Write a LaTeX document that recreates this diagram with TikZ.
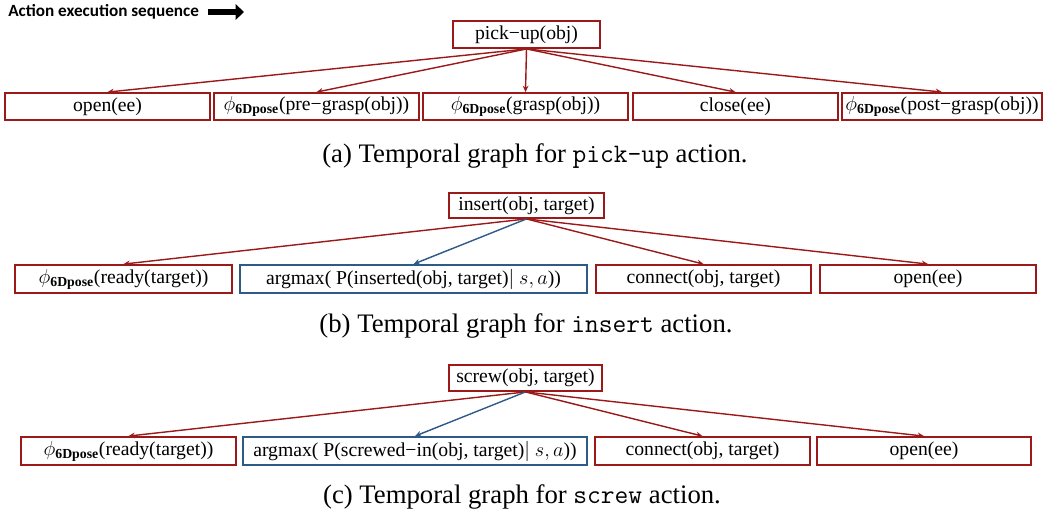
\documentclass[tikz,border=0pt]{standalone}
\usepackage{fontspec}
\setmainfont{Liberation Serif}
\newfontfamily\titlefont{Carlito}
\usetikzlibrary{arrows.meta}

\definecolor{boxred}{RGB}{155,25,25}
\definecolor{boxblue}{RGB}{46,90,136}

\tikzset{
  act/.style={draw=boxred, line width=1.3pt, inner sep=0pt, minimum height=0.675cm,
              font=\fontsize{14}{16}\selectfont},
  learnt/.style={act, draw=boxblue},
  edge/.style={draw=boxred, line width=1pt, -{Stealth[length=4.5pt,width=4pt]}},
  edgeb/.style={edge, draw=boxblue},
  captext/.style={font=\fontsize{19}{21}\selectfont}
}
\newcommand{\phipose}{$\phi_{\mathbf{6Dpose}}$}
\newcommand{\actname}[1]{\texttt{#1}}

\begin{document}
\begin{tikzpicture}[x=0.025cm, y=-0.025cm]
  \useasboundingbox (0,0) rectangle (1045,516);

  \node [right, inner sep=0pt, font=\titlefont\bfseries\fontsize{12.2}{14}\selectfont] (seq) at (8,12) {Action execution sequence};
  \coordinate (seqend) at (244,12);
  \draw [line width=4pt, -{Triangle[length=6pt,width=11pt]}] ([xshift=6pt]seq.east) -- (seqend);

  % (a) pick-up
  \node [act, minimum width=3.675cm] (pick) at (526.5, 34.5) {pick−up(obj)};
  \node [act, minimum width=5.125cm] (pOpen) at (107.5, 106.5) {open(ee)};
  \node [act, minimum width=5.125cm] (pPre) at (316.5, 106.5) {\phipose(pre−grasp(obj))};
  \node [act, minimum width=5.125cm] (pGrasp) at (525.5, 106.5) {\phipose(grasp(obj))};
  \node [act, minimum width=5.125cm] (pClose) at (735.5, 106.5) {close(ee)};
  \node [act, minimum width=5cm] (pPost) at (942, 106.5) {\phipose(post−grasp(obj))};

  \draw [edge] (pick.south) -- (pOpen.north);
  \draw [edge] (pick.south) -- (pPre.north);
  \draw [edge] (pick.south) -- (pGrasp.north);
  \draw [edge] (pick.south) -- (pClose.north);
  \draw [edge] (pick.south) -- (pPost.north);

  \node [captext] (capA) at (535, 156) {(a) Temporal graph for \actname{pick-up} action.};

  % (b) insert
  \node [act, minimum width=3.875cm, minimum height=0.625cm] (insert) at (526.5, 205.5) {insert(obj, target)};
  \node [act, minimum width=5.425cm, minimum height=0.7cm] (iReady) at (123.5, 279) {\phipose(ready(target))};
  \node [learnt, minimum width=8.675cm, minimum height=0.7cm] (iArg) at (413.5, 279) {argmax( P(inserted(obj, target)$|$ $s,a$))};
  \node [act, minimum width=5.375cm, minimum height=0.7cm] (iConn) at (703.5, 279) {connect(obj, target)};
  \node [act, minimum width=5.4cm, minimum height=0.7cm] (iOpen) at (928, 279) {open(ee)};

  \draw [edge] (insert.south) -- (iReady.north);
  \draw [edgeb] (insert.south) -- (iArg.north);
  \draw [edge] (insert.south) -- (iConn.north);
  \draw [edge] (insert.south) -- (iOpen.north);

  \node [captext] (capB) at (526, 326) {(b) Temporal graph for \actname{insert} action.};

  % (c) screw
  \node [act, minimum width=3.825cm, minimum height=0.65cm] (screw) at (525.5, 378) {screw(obj, target)};
  \node [act, minimum width=5.375cm, minimum height=0.7cm] (sReady) at (128.5, 451) {\phipose(ready(target))};
  \node [learnt, minimum width=8.6cm, minimum height=0.7cm] (sArg) at (415, 451) {argmax( P(screwed−in(obj, target)$|$ $s,a$))};
  \node [act, minimum width=5.375cm, minimum height=0.7cm] (sConn) at (702.5, 451) {connect(obj, target)};
  \node [act, minimum width=5.35cm, minimum height=0.7cm] (sOpen) at (924, 451) {open(ee)};

  \draw [edge] (screw.south) -- (sReady.north);
  \draw [edgeb] (screw.south) -- (sArg.north);
  \draw [edge] (screw.south) -- (sConn.north);
  \draw [edge] (screw.south) -- (sOpen.north);

  \node [captext] (capC) at (522, 497) {(c) Temporal graph for \actname{screw} action.};

\end{tikzpicture}
\end{document}
